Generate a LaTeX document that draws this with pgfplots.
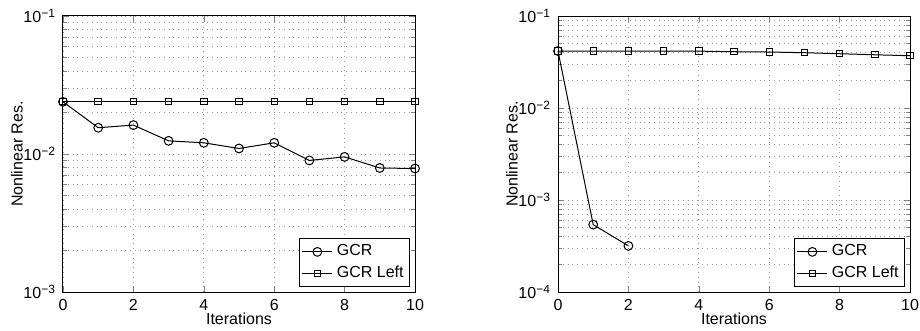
\documentclass[border=0pt]{standalone}
\usepackage{pgfplots}
\pgfplotsset{compat=1.18}
\usepackage{fontspec}
\setmainfont{Liberation Sans}
\newcommand{\fs}{\fontsize{8}{9.6}\selectfont}
\newcommand{\tp}[1]{10\textsuperscript{−#1}}
\pgfplotsset{legend image code/.code={\draw[mark repeat=2, mark phase=2, #1] plot coordinates {(0pt,0pt) (7.5pt,0pt) (15pt,0pt)};}}
\pgfplotsset{
  gcr/.style={black, line width=0.5pt, mark=o, mark size=2.2pt, mark options={solid, fill=none}},
  gcrl/.style={black, line width=0.5pt, mark=square, mark size=1.6pt, mark options={solid, fill=none}},
}
\newcommand{\commonopts}{
    scale only axis, width=176pt, height=138pt,
    anchor=south west,
    xmin=0, xmax=10,
    xtick={0,2,4,6,8,10}, xticklabels={0,2,4,6,8,10},
    tick align=inside,
    major tick length=3pt, minor tick length=1.8pt,
    axis line style={line width=0.5pt},
    grid=both,
    major grid style={dotted, gray!80, line width=0.4pt},
    minor grid style={dotted, gray!80, line width=0.4pt},
    tick label style={font=\fs},
    label style={font=\fs},
    xlabel={Iterations},
    ylabel={Nonlinear Res.},
    xlabel style={at={(axis description cs:0.5,-0.098)}, anchor=center},
    ylabel style={at={(axis description cs:-0.131,0.5)}, anchor=center},
    clip=false,
    legend cell align=left,
    legend style={font=\fs, at={(axis description cs:0.986,0.018)}, anchor=south east,
      draw=black, line width=0.5pt, inner sep=1pt, row sep=-0.5pt}
}
\begin{document}
\begin{tikzpicture}
\begin{semilogyaxis}[scale only axis, width=176pt, height=138pt,
    anchor=south west, at={(0pt,0pt)},
    xmin=0, xmax=10,
    xtick={0,2,4,6,8,10}, xticklabels={0,2,4,6,8,10},
    tick align=inside,
    major tick length=3pt, minor tick length=1.8pt,
    axis line style={line width=0.5pt},
    grid=both,
    major grid style={dotted, gray!80, line width=0.4pt},
    minor grid style={dotted, gray!80, line width=0.4pt},
    tick label style={font=\fs},
    label style={font=\fs},
    xlabel={Iterations},
    ylabel={Nonlinear Res.},
    xlabel style={at={(axis description cs:0.5,-0.098)}, anchor=center},
    ylabel style={at={(axis description cs:-0.131,0.5)}, anchor=center},
    clip=false,
    legend cell align=left,
    legend style={font=\fs, at={(axis description cs:0.986,0.018)}, anchor=south east,
      draw=black, line width=0.5pt, inner sep=1pt, row sep=-0.5pt},
  ymin=1e-3, ymax=1e-1,
  ytick={1e-3,1e-2,1e-1}, yticklabels={\tp{3},\tp{2},\tp{1}}]
\addplot[gcr] coordinates {(0,0.0239) (1,0.0155) (2,0.0162) (3,0.01245) (4,0.01205) (5,0.01097) (6,0.01205) (7,0.00898) (8,0.00953) (9,0.00792) (10,0.00785)};
\addlegendentry{GCR}
\addplot[gcrl] coordinates {(0,0.0239) (1,0.0239) (2,0.0239) (3,0.0239) (4,0.0239) (5,0.0239) (6,0.0239) (7,0.0239) (8,0.0239) (9,0.0239) (10,0.0239)};
\addlegendentry{GCR Left}
\end{semilogyaxis}
\begin{semilogyaxis}[scale only axis, width=176pt, height=138pt,
    anchor=south west, at={(247.5pt,0pt)},
    xmin=0, xmax=10,
    xtick={0,2,4,6,8,10}, xticklabels={0,2,4,6,8,10},
    tick align=inside,
    major tick length=3pt, minor tick length=1.8pt,
    axis line style={line width=0.5pt},
    grid=both,
    major grid style={dotted, gray!80, line width=0.4pt},
    minor grid style={dotted, gray!80, line width=0.4pt},
    tick label style={font=\fs},
    label style={font=\fs},
    xlabel={Iterations},
    ylabel={Nonlinear Res.},
    xlabel style={at={(axis description cs:0.5,-0.098)}, anchor=center},
    ylabel style={at={(axis description cs:-0.131,0.5)}, anchor=center},
    clip=false,
    legend cell align=left,
    legend style={font=\fs, at={(axis description cs:0.986,0.018)}, anchor=south east,
      draw=black, line width=0.5pt, inner sep=1pt, row sep=-0.5pt},
  ymin=1e-4, ymax=1e-1,
  ytick={1e-4,1e-3,1e-2,1e-1}, yticklabels={\tp{4},\tp{3},\tp{2},\tp{1}}]
\addplot[gcr] coordinates {(0,0.0416) (1,0.00054) (2,0.000317)};
\addlegendentry{GCR}
\addplot[gcrl] coordinates {(0,0.0416) (1,0.0416) (2,0.0416) (3,0.0416) (4,0.0415) (5,0.0409) (6,0.0406) (7,0.0399) (8,0.0389) (9,0.0379) (10,0.0370)};
\addlegendentry{GCR Left}
\end{semilogyaxis}
\pgfresetboundingbox
\path (-31.5pt,-19.5pt) rectangle (428.5pt,146pt);
\end{tikzpicture}
\end{document}
